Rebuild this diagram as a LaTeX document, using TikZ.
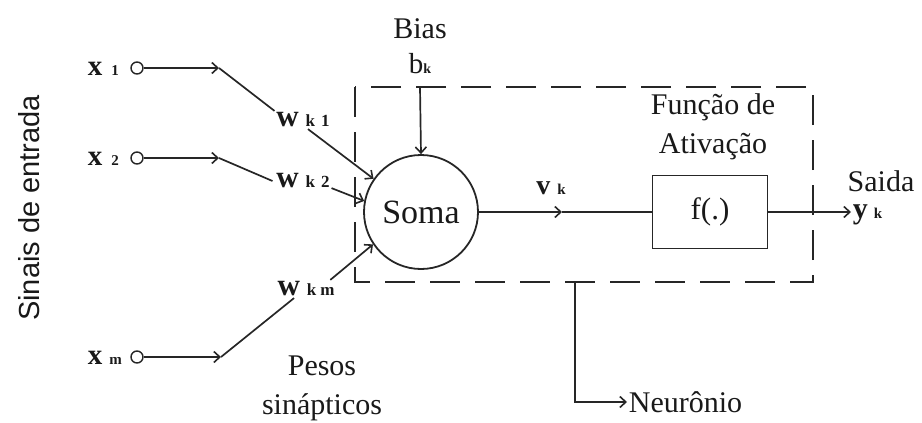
\documentclass[tikz,border=0pt]{standalone}
\usepackage{fontspec}
\setmainfont{Liberation Serif}
\newfontfamily\sanslbl{Liberation Sans}
\usetikzlibrary{arrows.meta}

% small index set on the baseline after a symbol
\newcommand\idxtxt[2]{{\fontsize{#1}{#1}\selectfont\bfseries #2}}

\begin{document}
\begin{tikzpicture}[x=1pt,y=-1pt,
  line width=1.7pt,
  draw=black!85,
  every node/.style={inner sep=1pt, text=black!90},
  lbl/.style={font=\fontsize{30}{39}\selectfont, align=center},
  var/.style={font=\fontsize{29}{30}\selectfont\bfseries},
  port/.style={circle, draw, line width=1.4pt, minimum size=12pt, inner sep=0pt},
  tip/.style={-{Straight Barb[length=6pt,width=11pt,line width=1.6pt]}},
  frame/.style={draw, dash pattern=on 30pt off 15pt, line width=1.9pt},
]
\useasboundingbox (0,0) rectangle (922,423);

% input label
\node[rotate=90, font=\sanslbl\fontsize{29}{30}\selectfont] (sinais) at (29,208) {Sinais de entrada};

% inputs
\node[var, anchor=west] (x1) at (86,69) {x\hspace{9pt}\idxtxt{15}{1}};
\node[var, anchor=west] (x2) at (86,159) {x\hspace{9pt}\idxtxt{15}{2}};
\node[var, anchor=west] (xm) at (86,358) {x\hspace{7pt}\idxtxt{15}{m}};
\node[port] (c1) at (137,68) {};
\node[port] (c2) at (137,158) {};
\node[port] (cm) at (137,357) {};
\coordinate (p1) at (219,68);
\coordinate (p2) at (219,158);
\coordinate (pm) at (221,357);
\draw[tip] (c1) -- (p1);
\draw[tip] (c2) -- (p2);
\draw[tip] (cm) -- (pm);

% synaptic weights
\node[var, font=\fontsize{31}{32}\selectfont\bfseries] (w1) at (303,120) {w\hspace{7pt}\idxtxt{17}{k\hspace{6pt}1}};
\node[var, font=\fontsize{31}{32}\selectfont\bfseries] (w2) at (303,181) {w\hspace{7pt}\idxtxt{17}{k\hspace{6pt}2}};
\node[var, font=\fontsize{31}{32}\selectfont\bfseries] (wm) at (306,289) {w\hspace{7pt}\idxtxt{17}{k\hspace{4pt}m}};
\draw (p1) -- (w1.north west);
\draw (p2) -- ([xshift=-2pt]w2.west);
\draw (pm) -- ([xshift=-12pt]wm.south);
\node[lbl] (pesos) at (322,388) {Pesos\\sinápticos};

% dashed neuron frame
\draw[frame] (355,87) rectangle (813,282);
\coordinate (fb) at (575,282);

% summing junction
\node[circle, draw, line width=1.8pt, minimum size=114pt, font=\fontsize{34}{36}\selectfont] (soma) at (421,212) {Soma};
\draw[tip] ([xshift=5pt]w1.south) -- (soma.145);
\draw[tip] ([yshift=2pt]w2.south east) -- (soma.169);
\draw[tip] ([xshift=-6pt]wm.north east) -- (soma.214);

% bias
\node[lbl] (bias) at (420,29) {Bias};
\node[var, font=\fontsize{29}{30}\selectfont] (bk) at (420,64) {b\idxtxt{14}{k}};
\coordinate (bt) at (420,87);
\draw[tip] (bt) -- (soma.north);

% induced field and activation
\coordinate (pv) at (562,212);
\node[var, font=\fontsize{28}{30}\selectfont\bfseries] (vk) at (551,188) {v\hspace{7pt}\idxtxt{15}{k}};
\draw[tip] (soma.east) -- (pv);
\node[draw, line width=1.8pt, minimum width=115pt, minimum height=73pt, font=\fontsize{31}{32}\selectfont] (fbox) at (710,212) {f(.)};
\draw (pv) -- (fbox.west);
\node[lbl] (func) at (713,127) {Função de\\Ativação};

% output
\coordinate (po) at (851,212);
\draw[tip] (fbox.east) -- (po);
\node[var, anchor=west, font=\fontsize{30}{30}\selectfont\bfseries] (yk) at (851,215) {y\hspace{6pt}\idxtxt{15}{k}};
\node[lbl] (saida) at (881,181) {Saida};

% neuron label
\node[lbl, anchor=west] (neur) at (627,402) {Neurônio};
\draw[tip] (fb) |- (neur.west);
\end{tikzpicture}
\end{document}
